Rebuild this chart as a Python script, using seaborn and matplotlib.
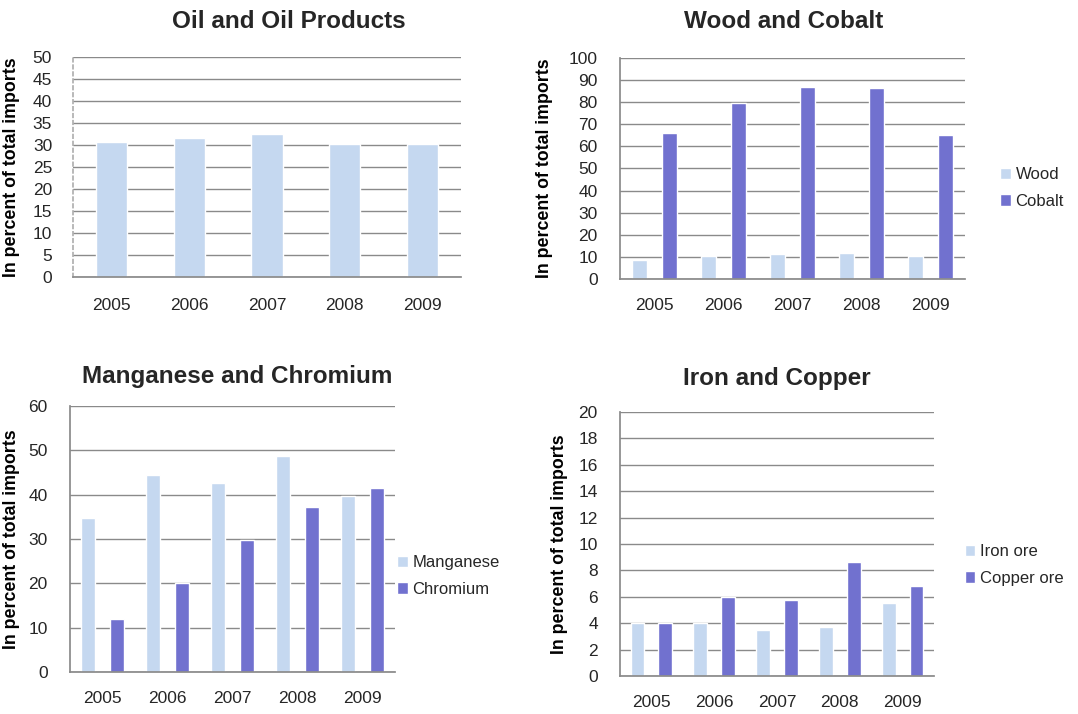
import pandas as pd
import matplotlib
matplotlib.use('Agg')
import matplotlib.pyplot as plt
import seaborn as sns

sns.set_theme(style='white')
plt.rcParams['font.family'] = ['Liberation Sans', 'DejaVu Sans']

# --- Data ---
years = ['2005', '2006', '2007', '2008', '2009']

oil = [30.7, 31.6, 32.6, 30.2, 30.2]

wood = [8.7, 10.5, 11.3, 11.7, 10.5]
cobalt = [66.2, 79.8, 86.8, 86.2, 65.0]

manganese = [34.8, 44.4, 42.7, 48.8, 39.8]
chromium = [11.9, 20.0, 29.8, 37.3, 41.5]

iron_ore = [4.0, 4.0, 3.5, 3.75, 5.5]
copper_ore = [4.0, 6.0, 5.75, 8.6, 6.8]

LIGHT = '#C5D8F0'
DARK = '#7171CF'
GRID = '#8a8a8a'
TXT = '#262626'

W, H = 1078, 714
fig = plt.figure(figsize=(W / 100, H / 100), dpi=100)


def box(l, t, r, b):
    return [l / W, 1 - b / H, (r - l) / W, (b - t) / H]


def long_df(names, series):
    rows = []
    for name, vals in zip(names, series):
        for y, v in zip(years, vals):
            rows.append({'Year': y, 'Series': name, 'Value': v})
    return pd.DataFrame(rows)


def style_axes(ax, ymax, step, ticks=True):
    ax.set_ylim(0, ymax)
    ax.set_xlim(-0.5, len(years) - 0.5)
    ax.set_yticks(range(0, ymax + 1, step))
    ax.yaxis.grid(True, color=GRID, linewidth=1)
    ax.set_axisbelow(True)
    for s in ['top', 'right']:
        ax.spines[s].set_visible(False)
    ax.spines['bottom'].set_color(GRID)
    ax.spines['left'].set_color(GRID)
    ax.set_xlabel('')
    ax.tick_params(axis='both', labelsize=12.5, labelcolor=TXT, colors=GRID)
    if ticks:
        ax.tick_params(axis='y', length=5, width=1, pad=11)
        ax.tick_params(axis='x', which='major', length=0, pad=14)
        ax.set_xticks([i - 0.5 for i in range(len(years) + 1)], minor=True)
        ax.tick_params(axis='x', which='minor', length=6, width=1, color=GRID)
    else:
        ax.tick_params(axis='y', length=0, pad=15)
        ax.tick_params(axis='x', length=0, pad=15)
        ax.spines['left'].set_linestyle((0, (2, 2)))
        ax.spines['left'].set_color('#b0b0b0')
    ax.set_ylabel('In percent of total imports', fontsize=12.8, fontweight='bold',
                  color='black')


def add_legend(ax, x, y):
    handles, labels = ax.get_legend_handles_labels()
    ax.legend(handles, labels, loc='center left', bbox_to_anchor=(x / W, 1 - y / H),
              bbox_transform=fig.transFigure, frameon=False, fontsize=12,
              handlelength=0.65, handleheight=0.65, handletextpad=0.3,
              labelspacing=0.7, borderaxespad=0)


# Panel 1: Oil and Oil Products
ax1 = fig.add_axes(box(73, 57, 461, 277))
sns.barplot(data=pd.DataFrame({'Year': years, 'Value': oil}), x='Year', y='Value',
            color=LIGHT, saturation=1, width=0.4, ax=ax1)
style_axes(ax1, 50, 5, ticks=False)
ax1.yaxis.set_label_coords(-0.137, 0.5)
fig.text(289 / W, 1 - 21 / H, 'Oil and Oil Products', ha='center', va='center',
         fontsize=17.5, fontweight='bold')

# Panel 2: Wood and Cobalt
ax2 = fig.add_axes(box(620, 58, 965, 279))
sns.barplot(data=long_df(['Wood', 'Cobalt'], [wood, cobalt]), x='Year', y='Value',
            hue='Series', palette=[LIGHT, DARK], saturation=1, width=0.88, gap=0.5, ax=ax2)
style_axes(ax2, 100, 10)
ax2.yaxis.set_label_coords(-0.195, 0.5)
add_legend(ax2, 993, 188)
fig.text(784 / W, 1 - 22 / H, 'Wood and Cobalt', ha='center', va='center',
         fontsize=17.5, fontweight='bold')

# Panel 3: Manganese and Chromium
ax3 = fig.add_axes(box(70, 406, 395, 672))
sns.barplot(data=long_df(['Manganese', 'Chromium'], [manganese, chromium]), x='Year',
            y='Value', hue='Series', palette=[LIGHT, DARK], saturation=1, width=0.88,
            gap=0.5, ax=ax3)
style_axes(ax3, 60, 10)
ax3.yaxis.set_label_coords(-0.155, 0.5)
add_legend(ax3, 390, 576)
fig.text(237 / W, 1 - 377 / H, 'Manganese and Chromium', ha='center', va='center',
         fontsize=17.5, fontweight='bold')

# Panel 4: Iron and Copper
ax4 = fig.add_axes(box(620, 412, 934, 676))
sns.barplot(data=long_df(['Iron ore', 'Copper ore'], [iron_ore, copper_ore]), x='Year',
            y='Value', hue='Series', palette=[LIGHT, DARK], saturation=1, width=0.88,
            gap=0.5, ax=ax4)
style_axes(ax4, 20, 2)
ax4.yaxis.set_label_coords(-0.165, 0.5)
add_legend(ax4, 958, 565)
fig.text(777 / W, 1 - 378 / H, 'Iron and Copper', ha='center', va='center',
         fontsize=17.5, fontweight='bold')

fig.savefig('out.png', dpi=100, facecolor='white')
